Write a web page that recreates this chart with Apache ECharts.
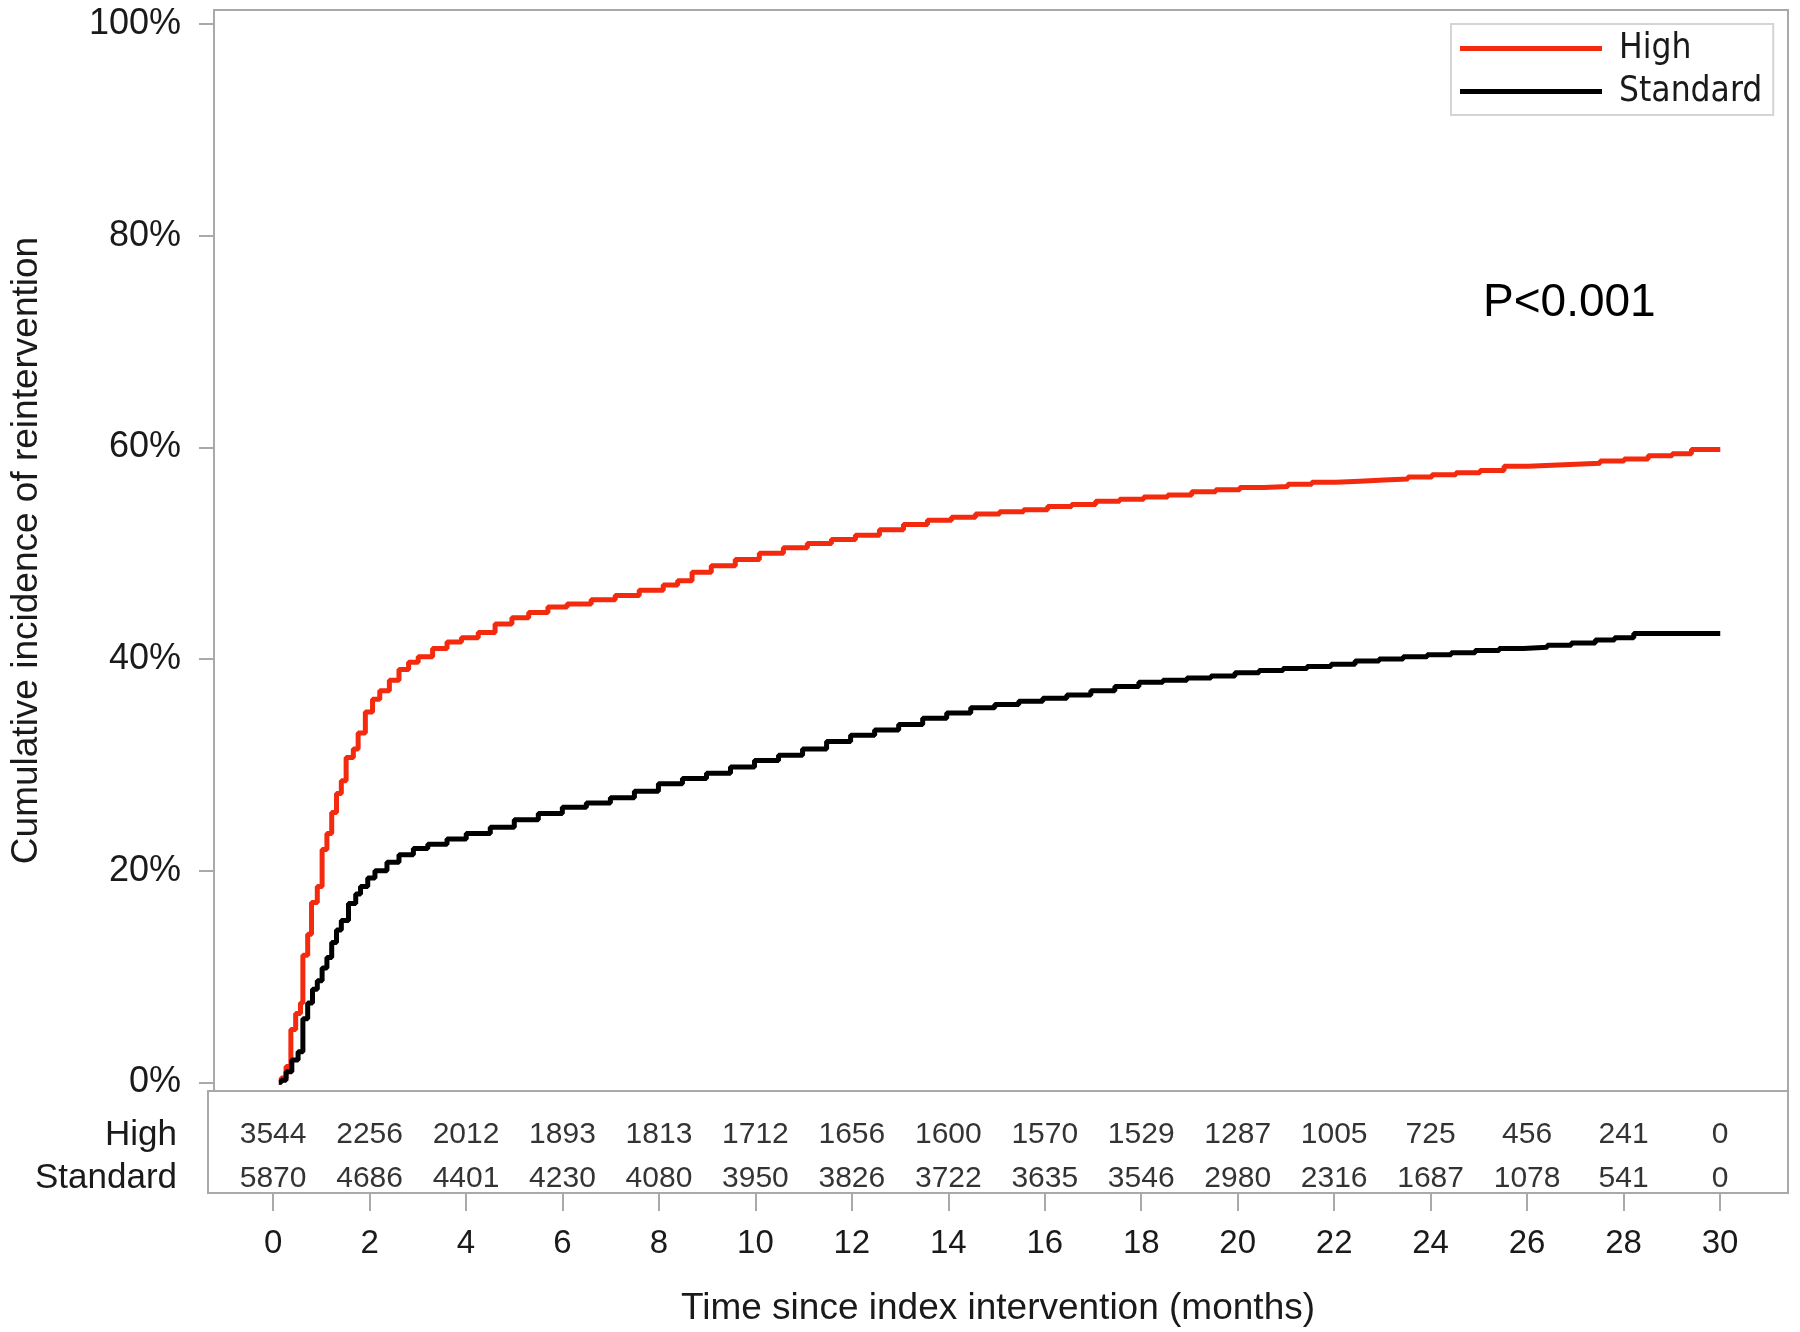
<!DOCTYPE html>
<html>
<head>
<meta charset="utf-8">
<script src="https://cdn.jsdelivr.net/npm/echarts@6/dist/echarts.min.js"></script>
<style>
  html, body { margin: 0; padding: 0; background: #fff; }
  #container { width: 1800px; height: 1332px; }
</style>
</head>
<body>
<div id="container"></div>
<script>
// tick positions
const monthTicks = [0, 2, 4, 6, 8, 10, 12, 14, 16, 18, 20, 22, 24, 26, 28, 30];
const pctTicks = [0, 0.2, 0.4, 0.6, 0.8, 1];

// cumulative incidence curves (months, %)
const highTime = [0, 0.05, 0.15, 0.25, 0.35, 0.45, 0.5, 0.6, 0.68, 0.8, 0.9, 1.0, 1.1, 1.2, 1.3, 1.4,
  1.55, 1.65, 1.8, 1.95, 2.1, 2.3, 2.5, 2.7, 2.9, 3.2, 3.5, 3.8, 4.15, 4.5, 4.85, 5.2, 5.6, 6.0,
  6.5, 7.0, 7.5, 8.0, 8.3, 8.6, 9.0, 9.5, 10.0, 10.5, 11.0, 11.5, 12.0, 12.5, 13.0, 13.5, 14.0,
  14.5, 15.0, 15.5, 16.0, 16.5, 17.0, 17.5, 18.0, 18.5, 19.0, 19.5, 20.0, 20.5, 21.0, 21.5, 22.0,
  22.5, 23.0, 23.5, 24.0, 24.5, 25.0, 25.5, 26.0, 26.5, 27.0, 27.5, 28.0, 28.5, 29.0, 29.4, 30.0];
const highPct = [0, 0.4, 1.5, 5.0, 6.5, 7.5, 12.0, 14.0, 17.0, 18.5, 22.0, 23.5, 25.5, 27.3, 28.5, 30.7,
  31.5, 33.0, 35.0, 36.2, 37.0, 38.0, 39.0, 39.7, 40.2, 41.0, 41.6, 42.0, 42.5, 43.3, 43.9, 44.4, 44.9, 45.2,
  45.6, 46.0, 46.5, 47.0, 47.4, 48.2, 48.8, 49.4, 50.0, 50.5, 50.9, 51.3, 51.7, 52.2, 52.7, 53.1, 53.4,
  53.7, 53.9, 54.1, 54.4, 54.6, 54.9, 55.1, 55.3, 55.5, 55.8, 56.0, 56.2, 56.3, 56.5, 56.7, 56.8,
  56.9, 57.0, 57.2, 57.4, 57.6, 57.8, 58.2, 58.3, 58.4, 58.5, 58.7, 58.9, 59.2, 59.4, 59.8, 59.8];

const standardTime = [0, 0.05, 0.15, 0.27, 0.4, 0.5, 0.6, 0.7, 0.8, 0.9, 1.0, 1.1, 1.2, 1.3, 1.45, 1.6,
  1.7, 1.85, 2.0, 2.25, 2.5, 2.8, 3.1, 3.5, 3.9, 4.4, 4.9, 5.4, 5.9, 6.4, 6.9, 7.4, 7.9, 8.4, 8.9,
  9.4, 9.9, 10.4, 10.9, 11.4, 11.9, 12.4, 12.9, 13.4, 13.9, 14.4, 14.9, 15.4, 15.9, 16.4, 16.9,
  17.4, 17.9, 18.4, 18.9, 19.4, 19.9, 20.4, 20.9, 21.4, 21.9, 22.4, 22.9, 23.4, 23.9, 24.4, 24.9,
  25.4, 25.9, 26.4, 26.9, 27.4, 27.8, 28.2, 30.0];
const standardPct = [0, 0.2, 1.0, 2.1, 2.9, 6.0, 7.5, 8.8, 9.6, 10.8, 11.8, 13.2, 14.4, 15.3, 16.9, 17.8,
  18.5, 19.3, 20.0, 20.8, 21.5, 22.1, 22.5, 23.0, 23.5, 24.1, 24.8, 25.4, 26.0, 26.4, 26.9, 27.5, 28.2, 28.7, 29.2,
  29.8, 30.4, 30.9, 31.5, 32.2, 32.8, 33.3, 33.8, 34.4, 34.9, 35.4, 35.7, 36.0, 36.3, 36.6, 37.0,
  37.4, 37.8, 38.0, 38.2, 38.4, 38.7, 38.9, 39.1, 39.3, 39.5, 39.8, 40.0, 40.2, 40.4, 40.6, 40.8,
  41.0, 41.1, 41.3, 41.5, 41.8, 42.0, 42.4, 42.4];

// numbers at risk
const groups = ['High', 'Standard'];
const highAtRisk = [3544, 2256, 2012, 1893, 1813, 1712, 1656, 1600, 1570, 1529, 1287, 1005, 725, 456, 241, 0];
const standardAtRisk = [5870, 4686, 4401, 4230, 4080, 3950, 3826, 3722, 3635, 3546, 2980, 2316, 1687, 1078, 541, 0];

const FONT = 'Liberation Sans';
const TXT = '#1a1a1a';
const GRAY = '#a9a9a9';
const RED = '#f42a0e';

const X_MIN = -1.35, X_MAX = 31.41;

const toPairs = (ts, vs) => ts.map((t, i) => [t, vs[i] / 100]);
const riskRow = (counts, row) => monthTicks.map((m, i) => [m, row, counts[i]]);

const chart = echarts.init(document.getElementById('container'), null, { renderer: 'canvas' });

chart.setOption({
  animation: false,
  backgroundColor: '#fff',
  grid: [
    { left: 208, top: 10, width: 1580, height: 1081, show: true, borderColor: GRAY, borderWidth: 2 },
    { left: 208, top: 1091, width: 1580, height: 102, show: true, borderColor: GRAY, borderWidth: 2 }
  ],
  xAxis: [
    { gridIndex: 0, type: 'value', min: X_MIN, max: X_MAX, show: false, axisLine: { onZero: false } },
    {
      gridIndex: 1, type: 'value', min: X_MIN, max: X_MAX, position: 'bottom',
      axisLine: { show: true, onZero: false, lineStyle: { color: GRAY, width: 2 } },
      axisTick: { show: true, length: 18, customValues: monthTicks, lineStyle: { color: GRAY, width: 2 } },
      axisLabel: { customValues: monthTicks, margin: 34, fontSize: 33, fontFamily: FONT, color: TXT },
      splitLine: { show: false },
      name: 'Time since index intervention (months)',
      nameLocation: 'middle', nameGap: 97,
      nameTextStyle: { fontSize: 37, fontFamily: FONT, color: TXT }
    }
  ],
  yAxis: [
    {
      gridIndex: 0, type: 'value', min: -0.0082, max: 1.0132, position: 'left',
      axisLine: { show: false, onZero: false },
      axisTick: { show: true, length: 15, customValues: pctTicks, lineStyle: { color: GRAY, width: 2 } },
      axisLabel: {
        customValues: pctTicks, margin: 33, fontSize: 36, fontFamily: FONT, color: TXT,
        formatter: v => Math.round(v * 100) + '%'
      },
      splitLine: { show: false },
      name: 'Cumulative incidence of reintervention',
      nameLocation: 'middle', nameGap: 169,
      nameTextStyle: { fontSize: 37, fontFamily: FONT, color: TXT }
    },
    {
      gridIndex: 1, type: 'value', min: -0.336, max: 2.02, position: 'left',
      axisLine: { show: false, onZero: false },
      axisTick: { show: false },
      axisLabel: {
        customValues: [0, 1], margin: 31, fontSize: 35, fontFamily: FONT, color: TXT,
        formatter: v => (v === 1 ? groups[0] : groups[1])
      },
      splitLine: { show: false }
    }
  ],
  legend: {
    data: groups,
    orient: 'vertical',
    left: 1451, top: 24,
    icon: 'rect',
    itemWidth: 142, itemHeight: 5, itemGap: 8,
    padding: [7, 11, 6, 9],
    borderColor: '#d4d4d4', borderWidth: 2,
    textStyle: { fontSize: 35, fontFamily: 'DejaVu Sans Condensed', color: TXT, padding: [0, 0, 0, 12] }
  },
  graphic: [{
    type: 'text',
    left: 1483, top: 280,
    style: { text: 'P<0.001', fontSize: 46, fontFamily: FONT, fill: '#000' }
  }],
  series: [
    {
      name: 'High', type: 'line', step: 'end', showSymbol: false,
      xAxisIndex: 0, yAxisIndex: 0,
      data: toPairs(highTime, highPct),
      itemStyle: { color: RED },
      lineStyle: { color: RED, width: 5 }
    },
    {
      name: 'Standard', type: 'line', step: 'end', showSymbol: false,
      xAxisIndex: 0, yAxisIndex: 0,
      data: toPairs(standardTime, standardPct),
      itemStyle: { color: '#000' },
      lineStyle: { color: '#000', width: 5 }
    },
    {
      name: 'At risk', type: 'scatter', xAxisIndex: 1, yAxisIndex: 1,
      symbol: 'circle', symbolSize: 2,
      itemStyle: { color: 'rgba(0,0,0,0)' },
      labelLayout: { hideOverlap: false },
      label: {
        show: true, position: 'inside', formatter: p => String(p.value[2]),
        fontSize: 30, fontFamily: FONT, color: '#000'
      },
      data: riskRow(highAtRisk, 1).concat(riskRow(standardAtRisk, 0))
    }
  ]
});
</script>
</body>
</html>
